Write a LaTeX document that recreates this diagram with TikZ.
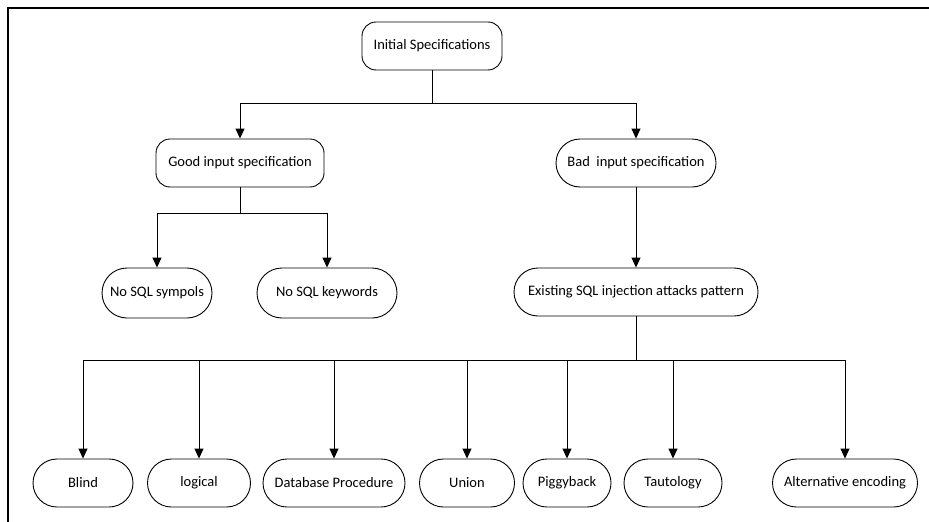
\documentclass[tikz,border=0pt]{standalone}
\usepackage{fontspec}
\setmainfont{Carlito}
\usetikzlibrary{arrows.meta,shapes.misc}

\tikzset{
  x=1pt, y=-1pt,
  base/.style={draw, line width=0.9pt, font=\fontsize{14.5}{17}\selectfont,
    inner sep=0pt, minimum height=48pt},
  roundbox/.style={base, rectangle, rounded corners=14pt},
  pill/.style={base, rounded rectangle},
  link/.style={line width=0.9pt, -{Triangle[length=10pt,width=9pt]}},
  plain/.style={line width=0.9pt}
}

\begin{document}
\begin{tikzpicture}
\useasboundingbox (0,0) rectangle (929,522);

% frame
\draw[line width=2.5pt] (8,522) -- (8,8) -- (929,8);

% top levels
\node[roundbox, minimum width=140pt] (init) at (432,46) {Initial Specifications};
\node[roundbox, minimum width=168pt] (good) at (240,163) {Good input specification};
\node[pill, minimum width=160pt] (bad) at (636,163) {Bad\ \ input specification};

\node[pill, minimum width=110pt, minimum height=50pt] (nosym) at (157,293) {No SQL sympols};
\node[pill, minimum width=140pt, minimum height=50pt] (nokey) at (327,293) {No SQL keywords};
\node[pill, minimum width=244pt] (exist) at (636,292) {Existing SQL injection attacks pattern};

% attack kinds
\node[pill, minimum width=100pt] (blind) at (83,483) {Blind};
\node[pill, minimum width=103pt] (logic) at (199,483) {logical};
\node[pill, minimum width=142pt] (dbproc) at (334,483) {Database Procedure};
\node[pill, minimum width=95pt] (union) at (467,483) {Union};
\node[pill, minimum width=88pt] (piggy) at (567,483) {Piggyback};
\node[pill, minimum width=98pt] (tauto) at (673,483) {Tautology};
\node[pill, minimum width=145pt] (altenc) at (845,483) {Alternative encoding};

% junctions
\coordinate (j1) at (432,103);
\coordinate (j2) at (240,213);
\coordinate (j3) at (636,360);

\draw[plain] (init.south) -- (j1);
\draw[link] (j1) -| (good.north);
\draw[link] (j1) -| (bad.north);

\draw[plain] (good.south) -- (j2);
\draw[link] (j2) -| (nosym.north);
\draw[link] (j2) -| (nokey.north);

\draw[link] (bad.south) -- (exist.north);

\draw[plain] (exist.south) -- (j3);
\foreach \n in {blind,logic,dbproc,union,piggy,tauto,altenc}
  \draw[link] (j3) -| (\n.north);
\end{tikzpicture}
\end{document}
